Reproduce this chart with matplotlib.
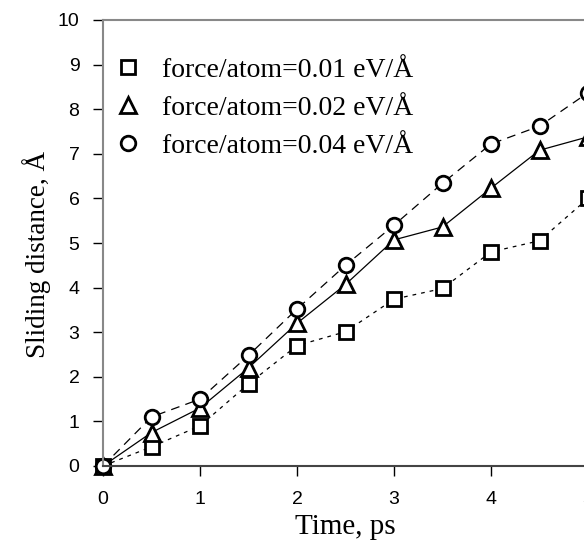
import numpy as np
import matplotlib
matplotlib.use('Agg')
import matplotlib.pyplot as plt

# time in ps
t = [0, 0.5, 1.0, 1.5, 2.0, 2.5, 3.0, 3.5, 4.0, 4.5, 5.0]

# sliding distance (angstrom) for each force/atom
d_001 = [0, 0.43, 0.9, 1.84, 2.7, 3.01, 3.74, 3.98, 4.8, 5.05, 6.0]
d_002 = [0, 0.75, 1.3, 2.2, 3.2, 4.07, 5.07, 5.36, 6.23, 7.08, 7.38]
d_004 = [0, 1.1, 1.5, 2.48, 3.52, 4.5, 5.4, 6.34, 7.22, 7.62, 8.37]

labels = ['force/atom=0.01 eV/Å', 'force/atom=0.02 eV/Å', 'force/atom=0.04 eV/Å']

fig = plt.figure(figsize=(5.84, 5.45), dpi=100)
ax = fig.add_axes([103/584, 79/545, 485/584, 446/545])

mk = dict(mfc='white', mec='black', mew=2.0, color='black', lw=0.9, clip_on=False)
ax.plot(t, d_001, marker='s', ms=10, dashes=(3, 4), label=labels[0], **mk)
ax.plot(t, d_002, marker='^', ms=11, ls='-', label=labels[1], **mk)
ax.plot(t, d_004, marker='o', ms=10.5, dashes=(7, 5), label=labels[2], **mk)

ax.set_xlim(0, 5)
ax.set_ylim(0, 10)
ax.set_xticks(range(6))
ax.set_yticks(range(11))
for s in ax.spines.values():
    s.set_color('#888888')
    s.set_linewidth(1.5)
ax.spines['bottom'].set_color('#444444')
ax.tick_params(direction='out', length=7, width=1, colors='black', labelsize=14)
ax.tick_params(axis='x', pad=11)
ax.tick_params(axis='y', pad=10)
for lab in ax.get_xticklabels() + ax.get_yticklabels():
    lab.set_family('Liberation Sans')

ax.set_xlabel('Time, ps', family='Liberation Serif', fontsize=21, labelpad=4)
ax.set_ylabel('Sliding distance, Å', family='Liberation Serif', fontsize=19.5)
ax.yaxis.set_label_coords(-0.108, 0.475)

leg = ax.legend(loc='upper left', frameon=False, prop={'family': 'Liberation Serif', 'size': 20},
                handlelength=0.6, handletextpad=0.9, labelspacing=0.45,
                borderaxespad=0.3, bbox_to_anchor=(-0.005, 0.96))
for h in leg.legend_handles:
    h.set_linestyle('none')

fig.savefig('out.png', dpi=100)
